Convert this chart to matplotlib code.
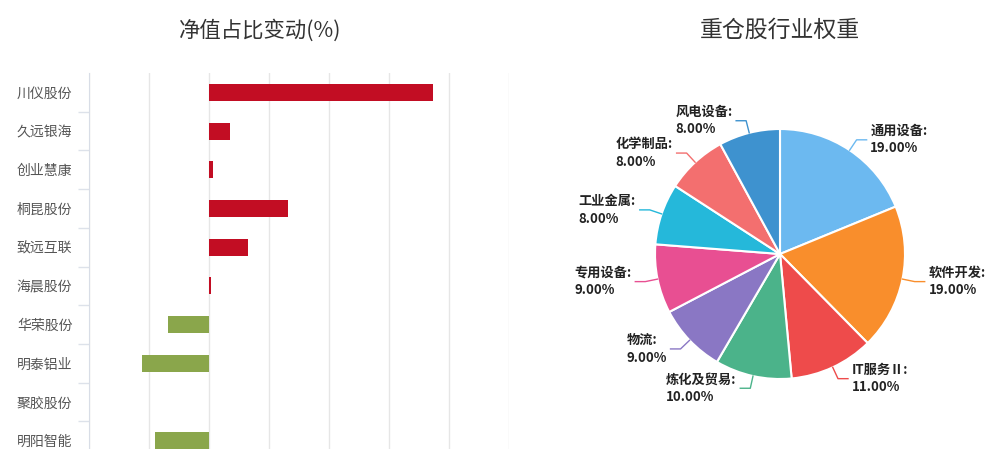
import numpy as np
import matplotlib
matplotlib.use("Agg")
import matplotlib.pyplot as plt

plt.rcParams['font.family'] = ['Noto Sans CJK SC', 'DejaVu Sans']

# bar chart data
stocks = ['川仪股份', '久远银海', '创业慧康', '桐昆股份', '致远互联',
          '海晨股份', '华荣股份', '明泰铝业', '聚胶股份', '明阳智能']
changes = [3.73, 0.35, 0.07, 1.32, 0.65, 0.03, -0.68, -1.12, 0.0, -0.90]

# pie chart data
sectors = ['通用设备', '软件开发', 'IT服务Ⅱ', '炼化及贸易', '物流',
           '专用设备', '工业金属', '化学制品', '风电设备']
weights = [19, 19, 11, 10, 9, 9, 8, 8, 8]
pie_colors = ['#6cb9f0', '#f98e2c', '#ee4b4b', '#4bb38a', '#8a77c4',
              '#e84f92', '#25b8da', '#f36f6f', '#3e92cf']

W, H = 1008, 449
fig = plt.figure(figsize=(W / 100, H / 100), dpi=100)

# ---- left: bars ----
ax = fig.add_axes([89 / W, -11 / H, 420 / W, 387 / H])
y = np.arange(len(stocks))
cols = ['#c20d23' if v >= 0 else '#8aa64b' for v in changes]
ax.barh(y, changes, height=0.44, color=cols, zorder=3)
ax.set_xlim(-2, 5)
ax.set_ylim(len(stocks) - 0.5, -0.5)
ax.set_xticks(np.arange(-2, 6))
ax.tick_params(axis='x', length=0, labelbottom=False)
ax.grid(axis='x', color='#e6e6e6', linewidth=1, zorder=0)
ax.set_yticks(y)
ax.set_yticklabels(stocks, fontsize=10, color='#555555')
ax.tick_params(axis='y', length=0, pad=12)
ax.set_yticks(np.arange(len(stocks)) + 0.5, minor=True)
ax.tick_params(axis='y', which='minor', length=8, color='#dde2ea', width=1)
for s in ['top', 'right', 'bottom']:
    ax.spines[s].set_visible(False)
ax.spines['left'].set_color('#d8dde6')
ax.spines['left'].set_zorder(4)
fig.text(260 / W, 1 - 30 / H, '净值占比变动(%)', fontsize=15.4, color='#333333',
         ha='center', va='center')

# ---- right: pie ----
cx, cy, r = 780, 254, 125
ax2 = fig.add_axes([530 / W, 0, 478 / W, 1])
wedges, _ = ax2.pie(weights, colors=pie_colors, startangle=90, counterclock=False,
                    radius=1, wedgeprops=dict(edgecolor='white', linewidth=1.5))
ax2.set_aspect('auto')
ax2.set_xlim((530 - cx) / r, (W - cx) / r)
ax2.set_ylim((cy - H) / r, cy / r)
ax2.axis('off')

for w, name, val, c in zip(wedges, sectors, weights, pie_colors):
    ang = np.deg2rad((w.theta1 + w.theta2) / 2)
    ca, sa = np.cos(ang), np.sin(ang)
    x0, y0 = 1.0 * ca, 1.0 * sa
    x1, y1 = 1.1 * ca, 1.1 * sa
    side = 1 if ca >= 0 else -1
    x2 = x1 + side * 0.08
    ax2.plot([x0, x1, x2], [y0, y1, y1], color=c, linewidth=1)
    # labels show the weight itself
    ax2.text(x2 + side * 0.03, y1, f'{name}:\n{val:.2f}%', fontsize=9.5,
             fontweight='bold', color='#222222', ha='left' if side > 0 else 'right',
             va='center', multialignment='left', linespacing=1.3)

fig.text(cx / W, 1 - 30 / H, '重仓股行业权重', fontsize=16.5, color='#333333',
         ha='center', va='center')

fig.savefig('out.png', dpi=100)
